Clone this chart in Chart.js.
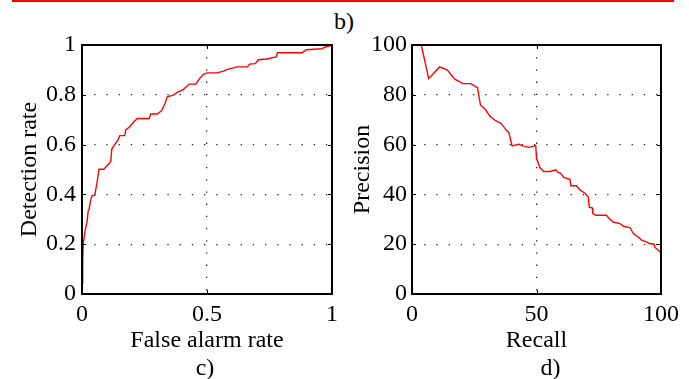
<!DOCTYPE html>
<html>
<head>
<meta charset="utf-8">
<script src="https://cdn.jsdelivr.net/npm/chart.js@4/dist/chart.umd.min.js"></script>
<style>
  body { margin: 0; background: #fff; }
  #wrap { position: relative; width: 689px; height: 379px; overflow: hidden; }
  .topbar { position: absolute; left: 12px; top: 0; width: 662px; height: 2px; background: #ff0000; }
  .panel-b { position: absolute; left: 334px; top: 7px; font: 24px "Liberation Serif", serif; color: #000; line-height: 28px; }
  canvas { position: absolute; top: 0; }
  #roc { left: 0; }
  #pr { left: 345px; }
</style>
</head>
<body>
<div id="wrap">
  <div class="topbar"></div>
  <div class="panel-b">b)</div>
  <canvas id="roc" width="345" height="379"></canvas>
  <canvas id="pr" width="344" height="379"></canvas>
</div>
<script>
// c) ROC curve
const rocFalseAlarm = [0, 0.003, 0.005, 0.012, 0.020, 0.025, 0.028, 0.035, 0.041, 0.051, 0.061, 0.068, 0.087, 0.104, 0.115, 0.119,
  0.131, 0.144, 0.151, 0.171, 0.175, 0.191, 0.205, 0.221, 0.269, 0.275, 0.301, 0.318, 0.332, 0.341, 0.365, 0.385,
  0.405, 0.429, 0.456, 0.467, 0.485, 0.501, 0.541, 0.566, 0.579, 0.606, 0.619, 0.662, 0.670, 0.693, 0.706, 0.739,
  0.777, 0.782, 0.880, 0.897, 0.960, 0.973, 1.0];
const rocDetection = [0.043, 0.136, 0.203, 0.253, 0.289, 0.336, 0.339, 0.379, 0.396, 0.396, 0.452, 0.501, 0.501, 0.519, 0.532, 0.581,
  0.601, 0.619, 0.636, 0.636, 0.659, 0.672, 0.689, 0.705, 0.705, 0.723, 0.723, 0.736, 0.765, 0.792, 0.799, 0.812,
  0.821, 0.843, 0.843, 0.861, 0.881, 0.888, 0.888, 0.895, 0.901, 0.908, 0.912, 0.912, 0.923, 0.925, 0.941, 0.944,
  0.952, 0.969, 0.969, 0.981, 0.985, 0.992, 0.999];
const rocXTicks = [0, 0.5, 1];
const rocYTicks = [0, 0.2, 0.4, 0.6, 0.8, 1];

// d) precision / recall
const prRecall = [3.75, 6.7, 11.1, 14.2, 17.2, 20.5, 23.6, 26.3, 27.5, 29.5, 31.2, 33.6, 35.8, 37.3, 38.9, 40.2,
  42.9, 44.6, 46.9, 49.7, 50.0, 51.3, 52.9, 55.4, 57.8, 58.7, 59.7, 61.0, 63.4, 63.8, 66.1, 67.4, 69.4, 70.8,
  71.2, 72.5, 72.6, 73.9, 78.1, 79.2, 80.8, 83.5, 84.9, 87.5, 88.9, 90.9, 92.2, 94.2, 95.3, 97.2, 97.6, 98.9, 99.9];
const prPrecision = [100, 86.5, 91.2, 89.9, 86.3, 84.5, 84.5, 82.9, 75.9, 74.1, 71.5, 69.6, 68.5, 66.5, 64.8, 59.5,
  60.1, 59.5, 58.9, 59.6, 54.5, 50.9, 49.2, 49.2, 49.9, 48.8, 48.5, 46.8, 46.1, 43.5, 43.5, 41.9, 40.5, 38.9,
  34.9, 34.5, 32.3, 31.6, 31.6, 30.3, 28.9, 28.3, 27.2, 26.7, 24.3, 22.9, 21.6, 20.9, 20.3, 20.0, 18.7, 17.6, 16.7];
const prXTicks = [0, 50, 100];
const prYTicks = [0, 20, 40, 60, 80, 100];

const serif = '"Liberation Serif", "Times New Roman", serif';
Chart.defaults.font.family = serif;
Chart.defaults.color = '#000';

// box around the plot + short inward tick marks (matlab look)
const framePlugin = {
  id: 'frame',
  afterDatasetsDraw(chart) {
    const { ctx, chartArea: a, scales } = chart;
    ctx.save();
    ctx.strokeStyle = '#000';
    ctx.lineWidth = 1;
    const len = 4;
    scales.x.ticks.forEach(t => {
      if (t.value === scales.x.min || t.value === scales.x.max) return;
      const px = Math.round(scales.x.getPixelForValue(t.value)) + 0.5;
      ctx.beginPath();
      ctx.moveTo(px, a.bottom); ctx.lineTo(px, a.bottom - len);
      ctx.moveTo(px, a.top); ctx.lineTo(px, a.top + len);
      ctx.stroke();
    });
    scales.y.ticks.forEach(t => {
      if (t.value === scales.y.min || t.value === scales.y.max) return;
      const py = Math.round(scales.y.getPixelForValue(t.value)) + 0.5;
      ctx.beginPath();
      ctx.moveTo(a.left, py); ctx.lineTo(a.left + len, py);
      ctx.moveTo(a.right, py); ctx.lineTo(a.right - len, py);
      ctx.stroke();
    });
    ctx.lineWidth = 2;
    ctx.strokeRect(a.left, a.top, a.right - a.left, a.bottom - a.top);
    ctx.restore();
  }
};

// panel caption under the axis title
const captionPlugin = {
  id: 'caption',
  afterDraw(chart, args, opts) {
    const { ctx, chartArea: a } = chart;
    ctx.save();
    ctx.font = '24px ' + serif;
    ctx.fillStyle = '#000';
    ctx.textAlign = 'center';
    ctx.textBaseline = 'middle';
    ctx.fillText(opts.text, (a.left + a.right) / 2 + opts.dx, opts.y);
    ctx.restore();
  }
};

function makeChart(id, xs, ys, xTicks, yTicks, xTitle, yTitle, caption, opt) {
  const pts = xs.map((x, i) => ({ x: x, y: ys[i] }));
  const edgeless = (scale) => (c) => (c.tick.value === scale[0] || c.tick.value === scale[scale.length - 1]) ? 'rgba(0,0,0,0)' : '#222';
  const plain = v => String(v);
  return new Chart(document.getElementById(id), {
    type: 'line',
    data: {
      datasets: [{
        data: pts,
        borderColor: '#ff0000',
        borderWidth: 1.4,
        pointRadius: 0,
        tension: 0,
        fill: false
      }]
    },
    options: {
      responsive: false,
      animation: false,
      layout: { padding: { top: 45, right: opt.right, left: 0, bottom: 0 } },
      plugins: {
        legend: { display: false },
        tooltip: { enabled: false },
        caption: { text: caption, dx: opt.capDx, y: 369 }
      },
      scales: {
        x: {
          type: 'linear',
          min: xTicks[0], max: xTicks[xTicks.length - 1],
          afterBuildTicks: s => { s.ticks = xTicks.map(v => ({ value: v })); },
          afterFit: s => { s.height = 85; },
          ticks: { font: { size: 24 }, padding: 6, maxRotation: 0, callback: plain },
          grid: { color: edgeless(xTicks), lineWidth: 1.3, drawTicks: false },
          border: { display: false, dash: [1.3, 10.9] },
          title: { display: true, text: xTitle, font: { size: 24 }, padding: { top: 0, bottom: 24 } }
        },
        y: {
          type: 'linear',
          min: yTicks[0], max: yTicks[yTicks.length - 1],
          afterBuildTicks: s => { s.ticks = yTicks.map(v => ({ value: v })); },
          afterFit: s => { s.width = opt.left; },
          ticks: { font: { size: 24 }, padding: opt.tickPad, callback: plain },
          grid: { color: edgeless(yTicks), lineWidth: 1.3, drawTicks: false },
          border: { display: false, dash: [1.3, 10.9] },
          title: { display: true, text: yTitle, font: { size: 24 }, padding: { top: opt.titlePad, bottom: 0 } }
        }
      }
    },
    plugins: [framePlugin, captionPlugin]
  });
}

makeChart('roc', rocFalseAlarm, rocDetection, rocXTicks, rocYTicks, 'False alarm rate', 'Detection rate', 'c)',
  { left: 82, right: 13, tickPad: 6, titlePad: 15, capDx: -2 });
makeChart('pr', prRecall, prPrecision, prXTicks, prYTicks, 'Recall', 'Precision', 'd)',
  { left: 67, right: 28, tickPad: 5, titlePad: 3, capDx: 14 });
</script>
</body>
</html>
